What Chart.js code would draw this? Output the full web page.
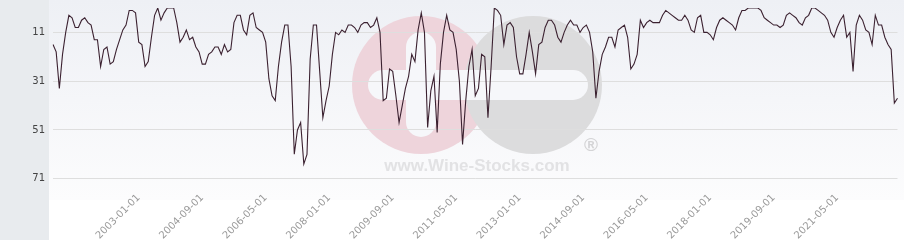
<!DOCTYPE html>
<html>
<head>
<meta charset="utf-8">
<script src="https://cdn.jsdelivr.net/npm/chart.js@4.4.1/dist/chart.umd.min.js"></script>
<style>
  html, body { margin: 0; padding: 0; background: #fff; }
  #wrap { width: 904px; height: 240px; }
</style>
</head>
<body>
<div id="wrap"><canvas id="rankChart" width="904" height="240"></canvas></div>
<script>
// monthly ranking, first month is 2000-10
const startYear = 2000;
const startMonth = 10;

const ranks = [
  16, 19, 34, 20, 11, 4, 5, 9, 9, 6,
  5, 7, 8, 14, 14, 25, 18, 17, 24, 23,
  18, 14, 10, 8, 2, 2, 3, 15, 16, 25,
  23, 13, 4, 1, 6, 3, 1, 1, 1, 7,
  15, 13, 10, 14, 13, 17, 19, 24, 24, 20,
  19, 17, 17, 20, 16, 19, 18, 7, 4, 4,
  10, 12, 4, 3, 9, 10, 11, 15, 30, 37,
  39, 25, 15, 8, 8, 25, 61, 51, 48, 65,
  61, 22, 8, 8, 27, 46, 39, 33, 20, 11,
  12, 10, 11, 8, 8, 9, 11, 8, 7, 7,
  9, 8, 5, 11, 39, 38, 26, 27, 37, 48,
  41, 34, 29, 20, 23, 10, 3, 11, 50, 35,
  29, 52, 24, 11, 4, 10, 11, 18, 31, 57,
  39, 25, 18, 37, 34, 20, 21, 46, 25, 1,
  2, 4, 16, 8, 7, 9, 21, 28, 28, 20,
  11, 19, 28, 16, 15, 9, 6, 6, 8, 13,
  15, 11, 8, 6, 8, 8, 11, 9, 8, 11,
  19, 38, 27, 20, 17, 13, 13, 17, 10, 9,
  8, 13, 26, 24, 20, 6, 9, 7, 6, 7,
  7, 7, 4, 2, 3, 4, 5, 6, 6,
  4, 6, 10, 11, 5, 4, 11, 11, 12, 14,
  9, 6, 5, 6, 7, 8, 10, 5, 2, 2,
  1, 1, 1, 1, 2, 5, 6, 7, 8, 8,
  9, 8, 4, 3, 4, 5, 7, 8, 5, 4,
  1, 1, 2, 3, 4, 6, 11, 13, 9, 6,
  4, 13, 11, 27, 8, 4, 6, 10, 11, 16,
  4, 8, 8, 13, 16, 18, 40, 38
];

const tickLabels = [
  '2003-01-01', '2004-09-01', '2006-05-01', '2008-01-01',
  '2009-09-01', '2011-05-01', '2013-01-01', '2014-09-01',
  '2016-05-01', '2018-01-01', '2019-09-01', '2021-05-01'
];

const yTicks = [11, 31, 51, 71];

// one category per month
const months = ranks.map((_, i) => {
  const m = startMonth - 1 + i;
  const y = startYear + Math.floor(m / 12);
  return `${y}-${String(m % 12 + 1).padStart(2, '0')}-01`;
});

function roundRect(ctx, x, y, w, h, r) {
  ctx.beginPath();
  ctx.moveTo(x + r, y);
  ctx.arcTo(x + w, y, x + w, y + h, r);
  ctx.arcTo(x + w, y + h, x, y + h, r);
  ctx.arcTo(x, y + h, x, y, r);
  ctx.arcTo(x, y, x + w, y, r);
  ctx.closePath();
  ctx.fill();
}

// grey side panel, plot gradient and the watermark logo
const backdrop = {
  id: 'backdrop',
  beforeDraw(chart) {
    const { ctx } = chart;
    ctx.save();
    ctx.fillStyle = '#e8ebee';
    ctx.fillRect(0, 0, 49, chart.height);

    const g = ctx.createLinearGradient(0, 0, 0, 200);
    g.addColorStop(0, '#eef0f5');
    g.addColorStop(1, '#fcfcfd');
    ctx.fillStyle = g;
    ctx.fillRect(49, 0, chart.width - 49, 200);

    ctx.fillStyle = '#eed4db';
    ctx.beginPath();
    ctx.arc(421, 85, 69, 0, Math.PI * 2);
    ctx.fill();
    ctx.fillStyle = '#dcdcdd';
    ctx.beginPath();
    ctx.arc(533, 85, 69, 0, Math.PI * 2);
    ctx.fill();

    ctx.fillStyle = '#f6f7fa';
    roundRect(ctx, 368, 70, 220, 30, 15);
    roundRect(ctx, 406, 32, 30, 105, 15);

    ctx.fillStyle = '#e2e2e4';
    ctx.font = 'bold 17px "Liberation Sans"';
    ctx.textAlign = 'center';
    ctx.textBaseline = 'middle';
    ctx.fillText('www.Wine-Stocks.com', 477, 166);
    ctx.fillStyle = '#d4d4d6';
    ctx.font = 'bold 19px "Liberation Sans"';
    ctx.fillText('®', 591, 146);
    ctx.restore();
  }
};

new Chart(document.getElementById('rankChart'), {
  type: 'line',
  data: {
    labels: months,
    datasets: [{
      data: ranks,
      borderColor: '#3b2130',
      borderWidth: 1.1,
      pointRadius: 0,
      tension: 0,
      fill: false
    }]
  },
  options: {
    responsive: false,
    animation: false,
    layout: { padding: { top: 8, right: 5, left: 0, bottom: 0 } },
    plugins: {
      legend: { display: false },
      tooltip: { enabled: false }
    },
    scales: {
      x: {
        type: 'category',
        grid: { display: false },
        border: { display: false },
        afterFit: s => { s.height = 54; },
        ticks: {
          autoSkip: false,
          minRotation: 45,
          maxRotation: 45,
          padding: -2,
          color: '#9a9a9a',
          font: { family: 'DejaVu Sans', size: 10 },
          callback: function (v) {
            const l = this.getLabelForValue(v);
            return tickLabels.includes(l) ? l : '';
          }
        }
      },
      y: {
        reverse: true,
        min: 1,
        max: 74,
        afterBuildTicks: s => { s.ticks = yTicks.map(v => ({ value: v })); },
        afterFit: s => { s.width = 53; s.paddingTop = 0; s.paddingBottom = 0; },
        grid: { color: '#dedede', drawTicks: false },
        border: { display: false },
        ticks: {
          padding: 8,
          color: '#444',
          font: { family: 'DejaVu Sans', size: 10 }
        }
      }
    }
  },
  plugins: [backdrop]
});
</script>
</body>
</html>
